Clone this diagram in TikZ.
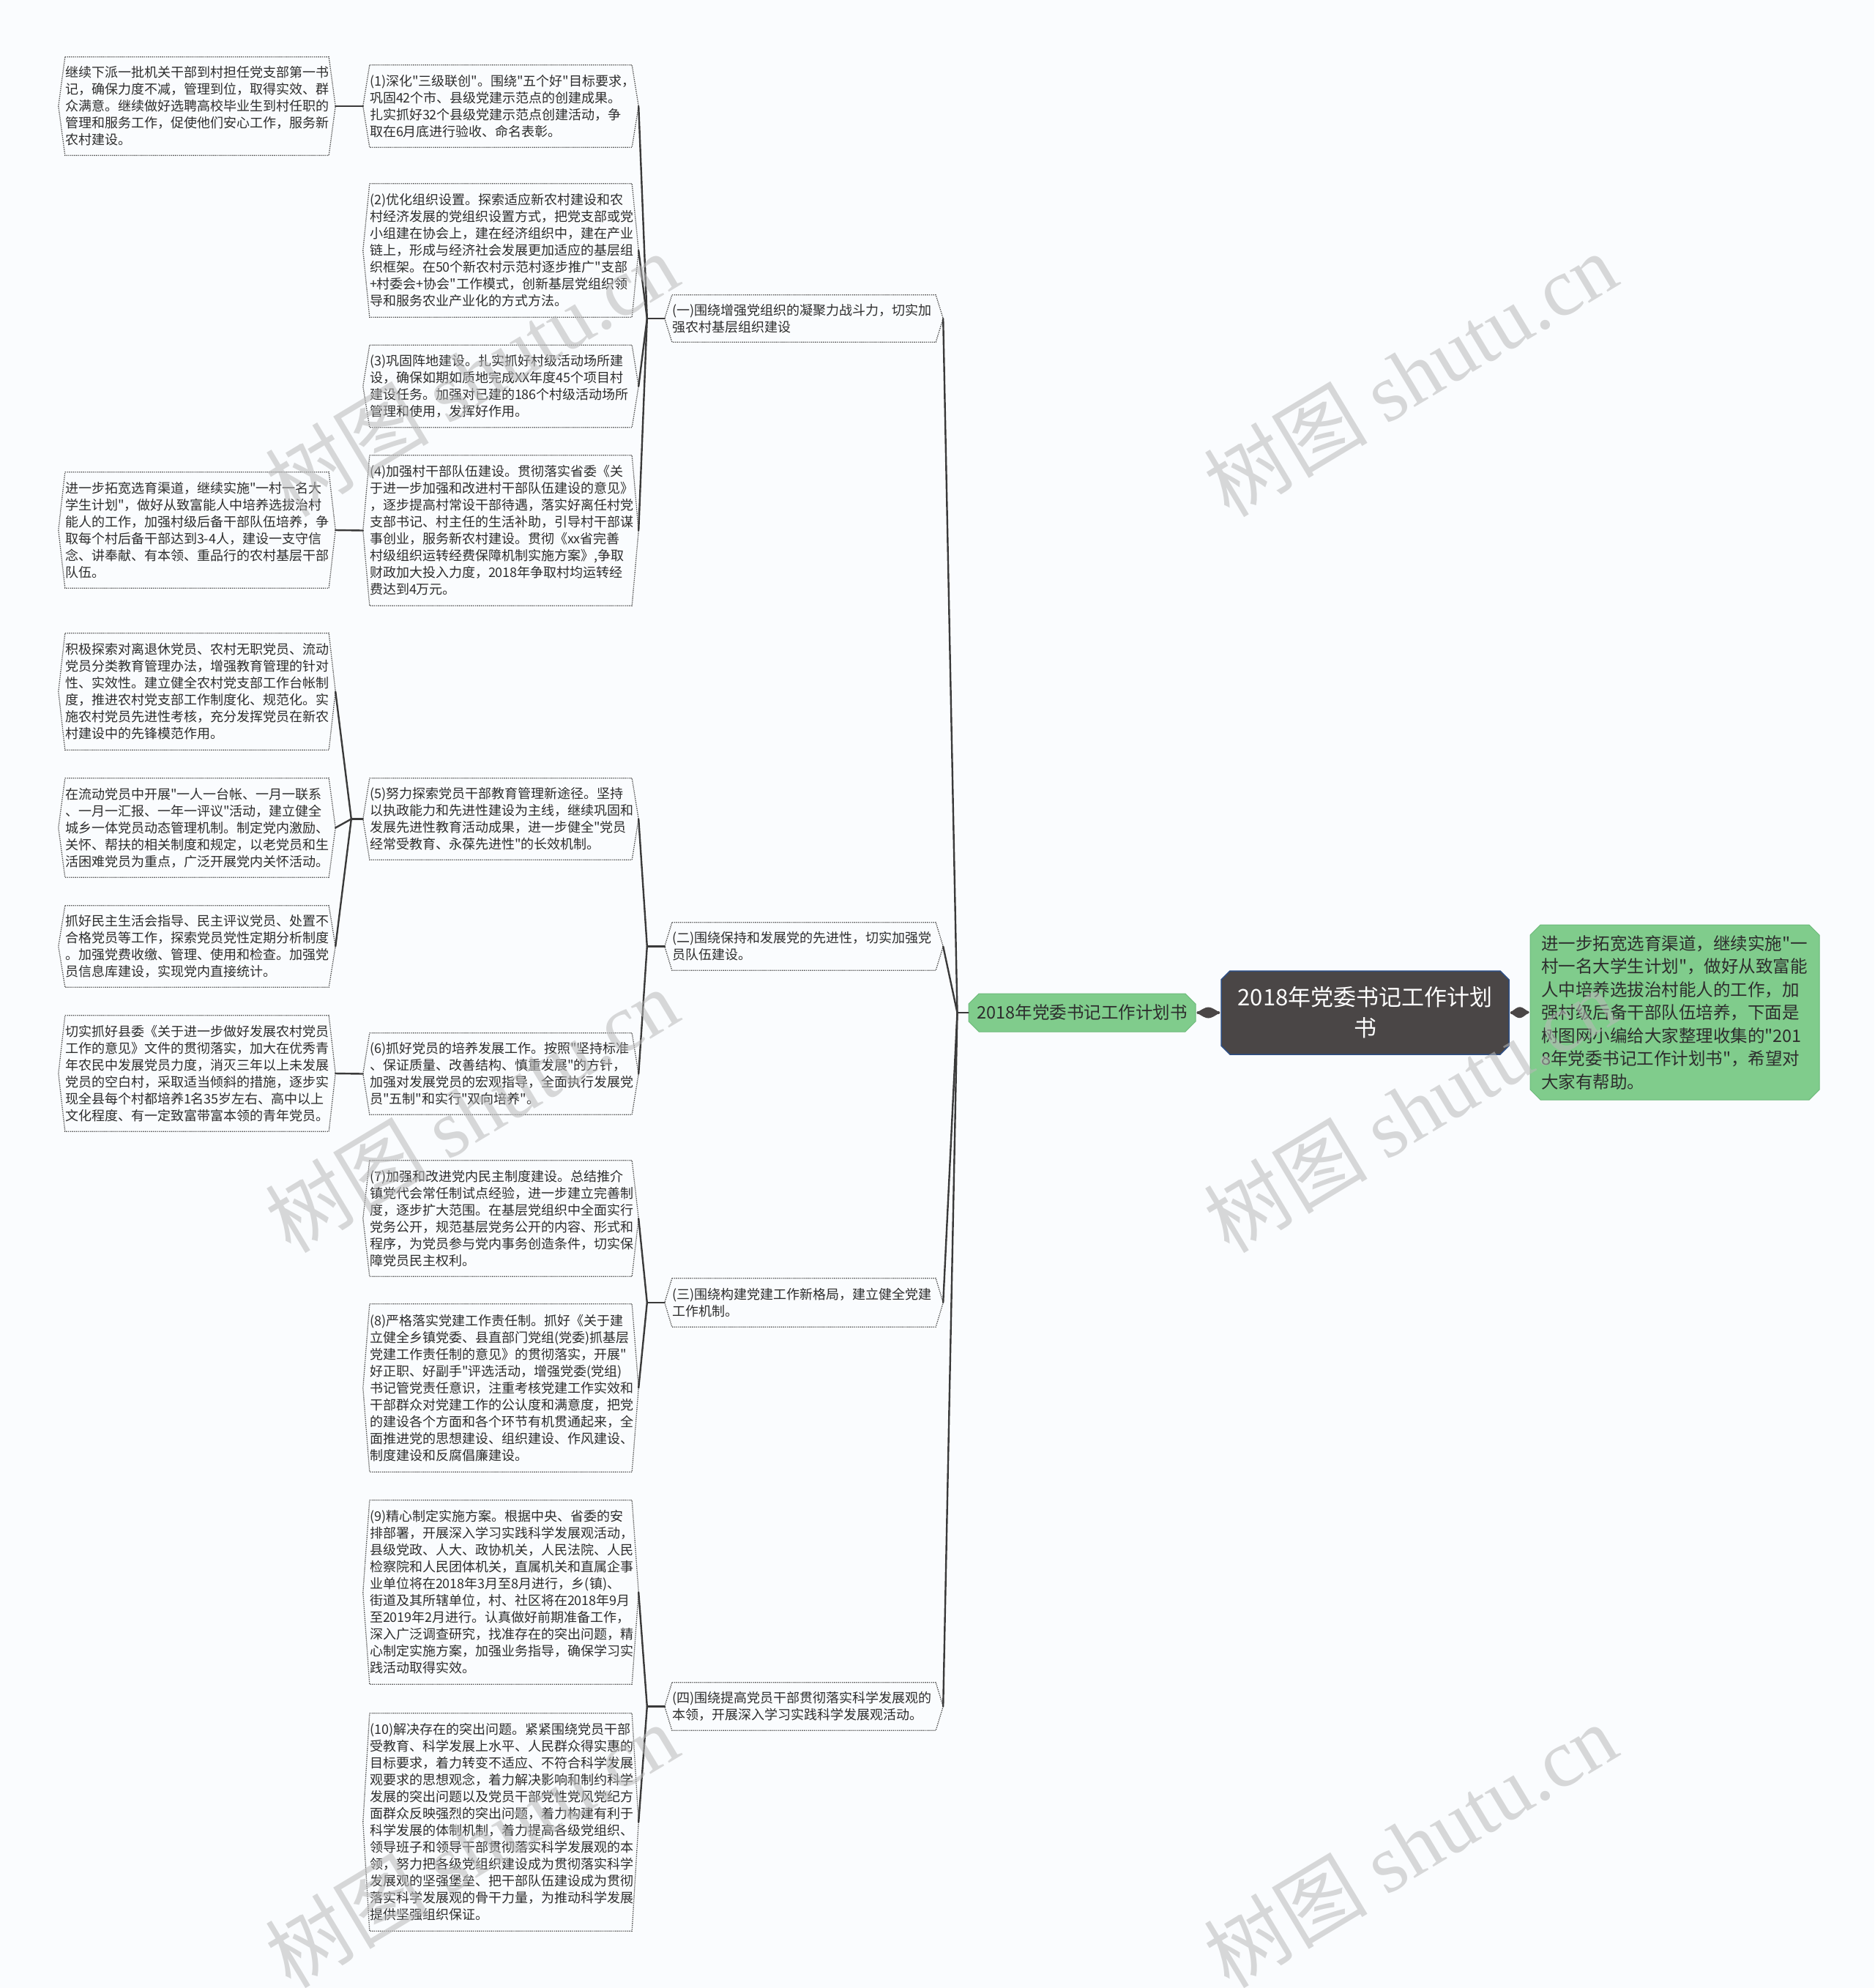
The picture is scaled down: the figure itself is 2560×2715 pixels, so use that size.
\documentclass[tikz,border=0pt]{standalone}
\usepackage{fontspec}
\setmainfont{Noto Sans CJK SC}[Ligatures=TeXOff]
\newfontfamily\wmlatin{Liberation Serif}
\usetikzlibrary{shapes.misc,calc}
\definecolor{bgc}{RGB}{250,252,254}
\definecolor{linec}{RGB}{58,58,58}
\definecolor{txtc}{RGB}{45,45,45}
\definecolor{bordc}{RGB}{80,80,80}
\definecolor{greenf}{RGB}{128,204,140}
\definecolor{greend}{RGB}{108,186,122}
\definecolor{rootf}{RGB}{74,70,70}
\definecolor{rootb}{RGB}{46,78,130}
\definecolor{wmc}{RGB}{185,185,185}
\newcommand\myfs[2]{\fontsize{#1}{#2}\selectfont}
\begin{document}
\begin{tikzpicture}[x=1pt,y=-1pt,
  txtbox/.style={rectangle, inner xsep=0pt, inner ysep=0pt, align=left,
    font=\myfs{18}{23}, text=txtc},
  leafbox/.style={txtbox, text width=360pt, minimum width=360pt},
  itembox/.style={txtbox, text width=358pt, minimum width=358pt},
  branchbox/.style={txtbox, text width=360pt, minimum width=360pt},
  hexline/.style={draw=bordc, line width=1.3pt, dash pattern=on 1.4pt off 1.3pt},
  conn/.style={draw=linec, line width=2.4pt, line cap=round, line join=round},
  thickconn/.style={fill=rootf},
  wm/.style={rotate=31, text=wmc, opacity=0.55, font=\myfs{112}{112}}
]
\fill[bgc] (0,0) rectangle (2560,2715);
\useasboundingbox (0,0) rectangle (2560,2715);

% ---------- leaves ----------
\node[leafbox, minimum height=134pt] (L1) at (269,145) {继续下派一批机关干部到村担任党支部第一书\\记，确保力度不减，管理到位，取得实效、群\\众满意。继续做好选聘高校毕业生到村任职的\\管理和服务工作，促使他们安心工作，服务新\\农村建设。};
\node[leafbox, minimum height=158pt] (L2) at (269,724) {进一步拓宽选育渠道，继续实施"一村一名大\\学生计划"，做好从致富能人中培养选拔治村\\能人的工作，加强村级后备干部队伍培养，争\\取每个村后备干部达到3\mbox{-}4人，建设一支守信\\念、讲奉献、有本领、重品行的农村基层干部\\队伍。};
\node[leafbox, minimum height=159pt] (L3) at (269,944.5) {积极探索对离退休党员、农村无职党员、流动\\党员分类教育管理办法，增强教育管理的针对\\性、实效性。建立健全农村党支部工作台帐制\\度，推进农村党支部工作制度化、规范化。实\\施农村党员先进性考核，充分发挥党员在新农\\村建设中的先锋模范作用。};
\node[leafbox, minimum height=135pt] (L4) at (269,1130.5) {在流动党员中开展"一人一台帐、一月一联系\\、一月一汇报、一年一评议"活动，建立健全\\城乡一体党员动态管理机制。制定党内激励、\\关怀、帮扶的相关制度和规定，以老党员和生\\活困难党员为重点，广泛开展党内关怀活动。};
\node[leafbox, minimum height=111pt] (L5) at (269,1292.5) {抓好民主生活会指导、民主评议党员、处置不\\合格党员等工作，探索党员党性定期分析制度\\。加强党费收缴、管理、使用和检查。加强党\\员信息库建设，实现党内直接统计。};
\node[leafbox, minimum height=158pt] (L6) at (269,1466) {切实抓好县委《关于进一步做好发展农村党员\\工作的意见》文件的贯彻落实，加大在优秀青\\年农民中发展党员力度，消灭三年以上未发展\\党员的空白村，采取适当倾斜的措施，逐步实\\现全县每个村都培养1名35岁左右、高中以上\\文化程度、有一定致富带富本领的青年党员。};

% ---------- items ----------
\node[itembox, minimum height=112pt] (I1) at (684,145) {(1)深化"三级联创"。围绕"五个好"目标要求，\\巩固42个市、县级党建示范点的创建成果。\\扎实抓好32个县级党建示范点创建活动，争\\取在6月底进行验收、命名表彰。};
\node[itembox, minimum height=182pt] (I2) at (684,342) {(2)优化组织设置。探索适应新农村建设和农\\村经济发展的党组织设置方式，把党支部或党\\小组建在协会上，建在经济组织中，建在产业\\链上，形成与经济社会发展更加适应的基层组\\织框架。在50个新农村示范村逐步推广"支部\\+村委会+协会"工作模式，创新基层党组织领\\导和服务农业产业化的方式方法。};
\node[itembox, minimum height=112pt] (I3) at (684,527.5) {(3)巩固阵地建设。扎实抓好村级活动场所建\\设，确保如期如质地完成XX年度45个项目村\\建设任务。加强对已建的186个村级活动场所\\管理和使用，发挥好作用。};
\node[itembox, minimum height=205pt] (I4) at (684,724.5) {(4)加强村干部队伍建设。贯彻落实省委《关\\于进一步加强和改进村干部队伍建设的意见》\\，逐步提高村常设干部待遇，落实好离任村党\\支部书记、村主任的生活补助，引导村干部谋\\事创业，服务新农村建设。贯彻《xx省完善\\村级组织运转经费保障机制实施方案》,争取\\财政加大投入力度，2018年争取村均运转经\\费达到4万元。};
\node[itembox, minimum height=111pt] (I5) at (684,1118.5) {(5)努力探索党员干部教育管理新途径。坚持\\以执政能力和先进性建设为主线，继续巩固和\\发展先进性教育活动成果，进一步健全"党员\\经常受教育、永葆先进性"的长效机制。};
\node[itembox, minimum height=111pt] (I6) at (684,1466.5) {(6)抓好党员的培养发展工作。按照"坚持标准\\、保证质量、改善结构、慎重发展"的方针，\\加强对发展党员的宏观指导，全面执行发展党\\员"五制"和实行"双向培养"。};
\node[itembox, minimum height=158pt] (I7) at (684,1664) {(7)加强和改进党内民主制度建设。总结推介\\镇党代会常任制试点经验，进一步建立完善制\\度，逐步扩大范围。在基层党组织中全面实行\\党务公开，规范基层党务公开的内容、形式和\\程序，为党员参与党内事务创造条件，切实保\\障党员民主权利。};
\node[itembox, minimum height=229pt] (I8) at (684,1895.5) {(8)严格落实党建工作责任制。抓好《关于建\\立健全乡镇党委、县直部门党组(党委)抓基层\\党建工作责任制的意见》的贯彻落实，开展"\\好正职、好副手"评选活动，增强党委(党组)\\书记管党责任意识，注重考核党建工作实效和\\干部群众对党建工作的公认度和满意度，把党\\的建设各个方面和各个环节有机贯通起来，全\\面推进党的思想建设、组织建设、作风建设、\\制度建设和反腐倡廉建设。};
\node[itembox, minimum height=251pt] (I9) at (684,2174.5) {(9)精心制定实施方案。根据中央、省委的安\\排部署，开展深入学习实践科学发展观活动，\\县级党政、人大、政协机关，人民法院、人民\\检察院和人民团体机关，直属机关和直属企事\\业单位将在2018年3月至8月进行，乡(镇)、\\街道及其所辖单位，村、社区将在2018年9月\\至2019年2月进行。认真做好前期准备工作，\\深入广泛调查研究，找准存在的突出问题，精\\心制定实施方案，加强业务指导，确保学习实\\践活动取得实效。};
\node[itembox, minimum height=297pt] (I10) at (684,2488.5) {(10)解决存在的突出问题。紧紧围绕党员干部\\受教育、科学发展上水平、人民群众得实惠的\\目标要求，着力转变不适应、不符合科学发展\\观要求的思想观念，着力解决影响和制约科学\\发展的突出问题以及党员干部党性党风党纪方\\面群众反映强烈的突出问题，着力构建有利于\\科学发展的体制机制，着力提高各级党组织、\\领导班子和领导干部贯彻落实科学发展观的本\\领，努力把各级党组织建设成为贯彻落实科学\\发展观的坚强堡垒、把干部队伍建设成为贯彻\\落实科学发展观的骨干力量，为推动科学发展\\提供坚强组织保证。};

% ---------- branches ----------
\node[branchbox, minimum height=64pt] (B1) at (1098,435) {(一)围绕增强党组织的凝聚力战斗力，切实加\\强农村基层组织建设};
\node[branchbox, minimum height=65pt] (B2) at (1098,1292.5) {(二)围绕保持和发展党的先进性，切实加强党\\员队伍建设。};
\node[branchbox, minimum height=66pt] (B3) at (1098,1779) {(三)围绕构建党建工作新格局，建立健全党建\\工作机制。};
\node[branchbox, minimum height=65pt] (B4) at (1098,2330.5) {(四)围绕提高党员干部贯彻落实科学发展观的\\本领，开展深入学习实践科学发展观活动。};

% hexagon borders
\foreach \n in {L1,L2,L3,L4,L5,L6,I1,I2,I3,I4,I5,I6,I7,I8,I9,I10}
  \draw[hexline] (\n.north west) -- (\n.north east) -- ([xshift=9pt]\n.east) -- (\n.south east) -- (\n.south west) -- ([xshift=-9pt]\n.west) -- cycle;
\foreach \n in {B1,B2,B3,B4}
  \draw[hexline] (\n.north west) -- (\n.north east) -- ([xshift=10pt]\n.east) -- (\n.south east) -- (\n.south west) -- ([xshift=-10pt]\n.west) -- cycle;

% ---------- centre ----------
\node[chamfered rectangle, chamfered rectangle xsep=7pt, chamfered rectangle ysep=7pt,
  fill=greenf, draw=greend, line width=1pt, minimum width=310pt, minimum height=52pt,
  inner sep=0pt, text=txtc, font=\myfs{23.5}{28}] (G) at (1478,1383) {2018年党委书记工作计划书};
\node[chamfered rectangle, chamfered rectangle xsep=6pt, chamfered rectangle ysep=6pt,
  fill=rootf, draw=rootb, line width=1.5pt, minimum width=393pt, minimum height=114pt,
  inner sep=0pt, text=white, align=center, font=\myfs{31}{42}] (R) at (1864.5,1383) {2018年党委书记工作计划\\书};
\node[chamfered rectangle, chamfered rectangle xsep=7pt, chamfered rectangle ysep=7pt,
  fill=greenf, draw=greend, line width=1pt, minimum width=381pt, minimum height=239pt,
  inner xsep=8pt, inner ysep=0pt, text width=365pt, align=left, text=txtc,
  font=\myfs{23.5}{31.5}] (N) at (2287.5,1382.5) {进一步拓宽选育渠道，继续实施"一\\村一名大学生计划"，做好从致富能\\人中培养选拔治村能人的工作，加\\强村级后备干部队伍培养，下面是\\树图网小编给大家整理收集的"201\\8年党委书记工作计划书"，希望对\\大家有帮助。};

% thick connectors
\fill[thickconn] ([xshift=1pt]G.east) .. controls ($(G.east)!0.5!(R.west)+(0,-10)$) .. ([xshift=-1pt]R.west) .. controls ($(G.east)!0.5!(R.west)+(0,10)$) .. cycle;
\draw[rootf, line width=4pt, line cap=round] ([xshift=3pt]G.east) -- ([xshift=-3pt]R.west);
\fill[thickconn] ([xshift=1pt]R.east) .. controls ($(R.east)!0.5!(N.west)+(0,-10)$) .. ([xshift=-1pt]N.west) .. controls ($(R.east)!0.5!(N.west)+(0,10)$) .. cycle;
\draw[rootf, line width=4pt, line cap=round] ([xshift=3pt]R.east) -- ([xshift=-3pt]N.west);

% green -> branches
\draw[conn] (G.west) -- ++(-15,0) coordinate (gb);
\foreach \b in {B1,B2,B3,B4}
  \draw[conn] (gb) -- ([xshift=10pt]\b.east);

% branches -> items
\draw[conn] ([xshift=-10pt]B1.west) -- ++(-24,0) coordinate (b1s);
\foreach \i in {I1,I2,I3,I4} \draw[conn] (b1s) -- ([xshift=9pt]\i.east);
\draw[conn] ([xshift=-10pt]B2.west) -- ++(-24,0) coordinate (b2s);
\foreach \i in {I5,I6} \draw[conn] (b2s) -- ([xshift=9pt]\i.east);
\draw[conn] ([xshift=-10pt]B3.west) -- ++(-24,0) coordinate (b3s);
\foreach \i in {I7,I8} \draw[conn] (b3s) -- ([xshift=9pt]\i.east);
\draw[conn] ([xshift=-10pt]B4.west) -- ++(-24,0) coordinate (b4s);
\foreach \i in {I9,I10} \draw[conn] (b4s) -- ([xshift=9pt]\i.east);

% items -> leaves
\draw[conn] ([xshift=-9pt]I1.west) -- ([xshift=9pt]L1.east);
\draw[conn] ([xshift=-9pt]I4.west) -- ([xshift=9pt]L2.east);
\draw[conn] ([xshift=-9pt]I5.west) -- ++(-16,0) coordinate (i5s);
\foreach \l in {L3,L4,L5} \draw[conn] (i5s) -- ([xshift=9pt]\l.east);
\draw[conn] ([xshift=-9pt]I6.west) -- ([xshift=9pt]L6.east);

% ---------- watermarks ----------
\node[wm] (W1) at (644,511) {树图 {\wmlatin shutu.cn}};
\node[wm] (W2) at (1926,511) {树图 {\wmlatin shutu.cn}};
\node[wm] (W3) at (644,1516) {树图 {\wmlatin shutu.cn}};
\node[wm] (W4) at (1926,1516) {树图 {\wmlatin shutu.cn}};
\node[wm] (W5) at (644,2520) {树图 {\wmlatin shutu.cn}};
\node[wm] (W6) at (1926,2520) {树图 {\wmlatin shutu.cn}};
\end{tikzpicture}
\end{document}
